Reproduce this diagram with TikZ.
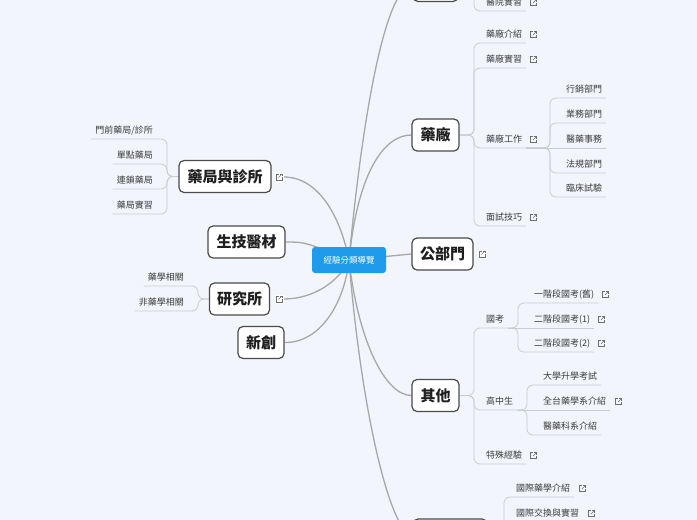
\documentclass[tikz,border=0pt]{standalone}
\usepackage{fontspec}
\newfontfamily\cjk{Noto Sans CJK TC}
\usetikzlibrary{calc}
\definecolor{bgc}{RGB}{242,245,252}
\definecolor{mainline}{RGB}{168,168,168}
\definecolor{brline}{RGB}{200,204,212}
\definecolor{cblue}{RGB}{30,155,235}
\definecolor{tborder}{RGB}{75,75,75}
\definecolor{leaftext}{RGB}{60,60,60}
\definecolor{iconc}{RGB}{110,110,110}
\pgfdeclarelayer{bg}
\pgfdeclarelayer{edges}
\pgfsetlayers{bg,edges,main}
\tikzset{
  topic/.style={draw=tborder, fill=white, line width=1.2pt, rounded corners=5pt, font=\cjk\bfseries\fontsize{15}{16}\selectfont, text=black!88, minimum height=32pt, inner sep=0pt},
  centre/.style={fill=cblue, rounded corners=3pt, text=white, font=\cjk\fontsize{8.5}{10}\selectfont, minimum width=74pt, minimum height=26pt, inner sep=0pt},
  leafR/.style={anchor=south west, font=\cjk\fontsize{9}{10}\selectfont, text=leaftext, inner sep=0pt, text height=7.5pt, text depth=5pt},
  leafL/.style={leafR, anchor=south east},
  mainc/.style={draw=mainline, line width=1.3pt},
  br/.style={draw=brline, line width=0.8pt, rounded corners=6pt},
  iconnode/.style={inner sep=0pt, minimum size=9pt},
  lnk/.pic={
    \draw[iconc, line width=0.6pt] (0,-3) -- (-3,-3) -- (-3,3) -- (3,3) -- (3,0);
    \draw[iconc, line width=0.6pt] (-0.5,0.5) -- (3,-3);
    \draw[iconc, line width=0.6pt] (0.8,-3) -- (3,-3) -- (3,-0.8);
  },
  lnkw/.pic={
    \fill[white] (-4.5,-4.5) rectangle (4.5,4.5);
    \draw[iconc, line width=0.6pt] (0,-3) -- (-3,-3) -- (-3,3) -- (3,3) -- (3,0);
    \draw[iconc, line width=0.6pt] (-0.5,0.5) -- (3,-3);
    \draw[iconc, line width=0.6pt] (0.8,-3) -- (3,-3) -- (3,-0.8);
  }
}
\begin{document}
\begin{tikzpicture}[x=1pt,y=-1pt]
\begin{pgfonlayer}{bg}
\fill[bgc] (0,0) rectangle (697,520);
\end{pgfonlayer}
\useasboundingbox (0,0) rectangle (697,520);

% centre and main topics
\node[centre] (C) at (349,260) {經驗分類導覽};
\node[topic, minimum width=45pt] (TB) at (435.5,-14.5) {};
\node[topic, minimum width=47pt] (YC) at (435.5,135) {藥廠};
\node[topic, minimum width=61pt] (GB) at (442.5,254) {公部門};
\node[topic, minimum width=47pt] (QT) at (435.5,395.5) {其他};
\node[topic, minimum width=74pt] (BB) at (450,535) {};
\node[topic, minimum width=92pt] (YJ) at (225,176.5) {藥局與診所};
\node[topic, minimum width=77pt] (SJ) at (246.5,242) {生技醫材};
\node[topic, minimum width=60pt] (YS) at (239.5,299) {研究所};
\node[topic, minimum width=46pt] (XC) at (261,342.5) {新創};

% topic icons
\node[iconnode] (YJi) at (279,177) {};
\node[iconnode] (GBi) at (482,254) {};
\node[iconnode] (YSi) at (279,299) {};
\pic at (YJi) {lnkw};
\pic at (GBi) {lnkw};
\pic at (YSi) {lnkw};

% leaves, right side
\node[leafR] (hosp) at (486,11) {醫院實習};
\node[leafR] (f1) at (486,43) {藥廠介紹};
\node[leafR] (f2) at (486,68) {藥廠實習};
\node[leafR] (f3) at (486,148) {藥廠工作};
\node[leafR] (f4) at (486,226) {面試技巧};
\node[leafR] (w1) at (566,98) {行銷部門};
\node[leafR] (w2) at (566,123) {業務部門};
\node[leafR] (w3) at (566,148) {醫藥事務};
\node[leafR] (w4) at (566,173) {法規部門};
\node[leafR] (w5) at (566,197) {臨床試驗};
\node[leafR] (o1) at (486,328) {國考};
\node[leafR] (o2) at (486,410) {高中生};
\node[leafR] (o3) at (486,464) {特殊經驗};
\node[leafR] (k1) at (534,303) {一階段國考(舊)};
\node[leafR] (k2) at (534,328) {二階段國考(1)};
\node[leafR] (k3) at (534,352) {二階段國考(2)};
\node[leafR] (h1) at (543,385) {大學升學考試};
\node[leafR] (h2) at (543,410) {全台藥學系介紹};
\node[leafR] (h3) at (543,435) {醫藥科系介紹};
\node[leafR] (b1) at (516,497) {國際藥學介紹};
\node[leafR] (b2) at (516,522) {國際交換與實習};

% leaves, left side
\node[leafL] (p1) at (153,139) {門前藥局/診所};
\node[leafL] (p2) at (153,164) {單點藥局};
\node[leafL] (p3) at (153,189) {連鎖藥局};
\node[leafL] (p4) at (153,214) {藥局實習};
\node[leafL] (r1) at (184,286) {藥學相關};
\node[leafL] (r2) at (184,311) {非藥學相關};

% leaf icons
\foreach \c in {hosp,f1,f2,f3,f4,o3,k1,k2,k3} \pic at ([shift={(11,-2)}]\c.east) {lnk};
\foreach \c in {h2,b1,b2} \pic at ([shift={(12,-2)}]\c.east) {lnk};

% junctions
\coordinate (jTB) at (474,-14.5);
\coordinate (jYC) at (474,135);
\coordinate (jF3) at (550,148);
\coordinate (jQT) at (474,395.5);
\coordinate (jO1) at (518,328);
\coordinate (jO2) at (527,410);
\coordinate (jBB) at (504,535);
\coordinate (jYJ) at (167,176.5);
\coordinate (jYS) at (198,299);

\begin{pgfonlayer}{edges}
% main connectors
\draw[mainc] (C.center) .. controls (362,120) and (385,-14.5) .. (TB.west);
\draw[mainc] (C.center) .. controls (358,170) and (385,135) .. (YC.west);
\draw[mainc] (C.center) -- (GB.west);
\draw[mainc] (C.center) .. controls (358,340) and (385,395.5) .. (QT.west);
\draw[mainc] (C.center) .. controls (362,420) and (392,535) .. (BB.west);
\draw[mainc] (YJi.east) .. controls (318,177) and (340,215) .. (C.center);
\draw[mainc] (SJ.east) .. controls (305,242) .. (C.center);
\draw[mainc] (YSi.east) .. controls (315,299) and (340,280) .. (C.center);
\draw[mainc] (XC.east) .. controls (322,343) and (345,300) .. (C.center);

% branches
\draw[br] (TB.east) -- (jTB) |- ([xshift=4pt]hosp.south east);
\foreach \c in {f1,f2,f3,f4} \draw[br] (YC.east) -- (jYC) |- ([xshift=4pt]\c.south east);
\foreach \c in {w1,w2,w4,w5} \draw[br] ([xshift=4pt]f3.south east) -- (jF3) |- ([xshift=4pt]\c.south east);
\draw[br] ([xshift=4pt]f3.south east) -- ([xshift=4pt]w3.south east);
\foreach \c in {o1,o2,o3} \draw[br] (QT.east) -- (jQT) |- ([xshift=4pt]\c.south east);
\foreach \c in {k1,k3} \draw[br] ([xshift=4pt]o1.south east) -- (jO1) |- ([xshift=4pt]\c.south east);
\draw[br] ([xshift=4pt]o1.south east) -- ([xshift=4pt]k2.south east);
\foreach \c in {h1,h3} \draw[br] ([xshift=4pt]o2.south east) -- (jO2) |- ([xshift=4pt]\c.south east);
\draw[br] ([xshift=4pt]o2.south east) -- ([xshift=4pt]h2.south east);
\foreach \c in {b1,b2} \draw[br] (BB.east) -- (jBB) |- ([xshift=4pt]\c.south east);
\foreach \c in {p1,p2,p3,p4} \draw[br] (YJ.west) -- (jYJ) |- ([xshift=-4pt]\c.south west);
\foreach \c in {r1,r2} \draw[br] (YS.west) -- (jYS) |- ([xshift=-4pt]\c.south west);
\end{pgfonlayer}
\end{tikzpicture}
\end{document}
